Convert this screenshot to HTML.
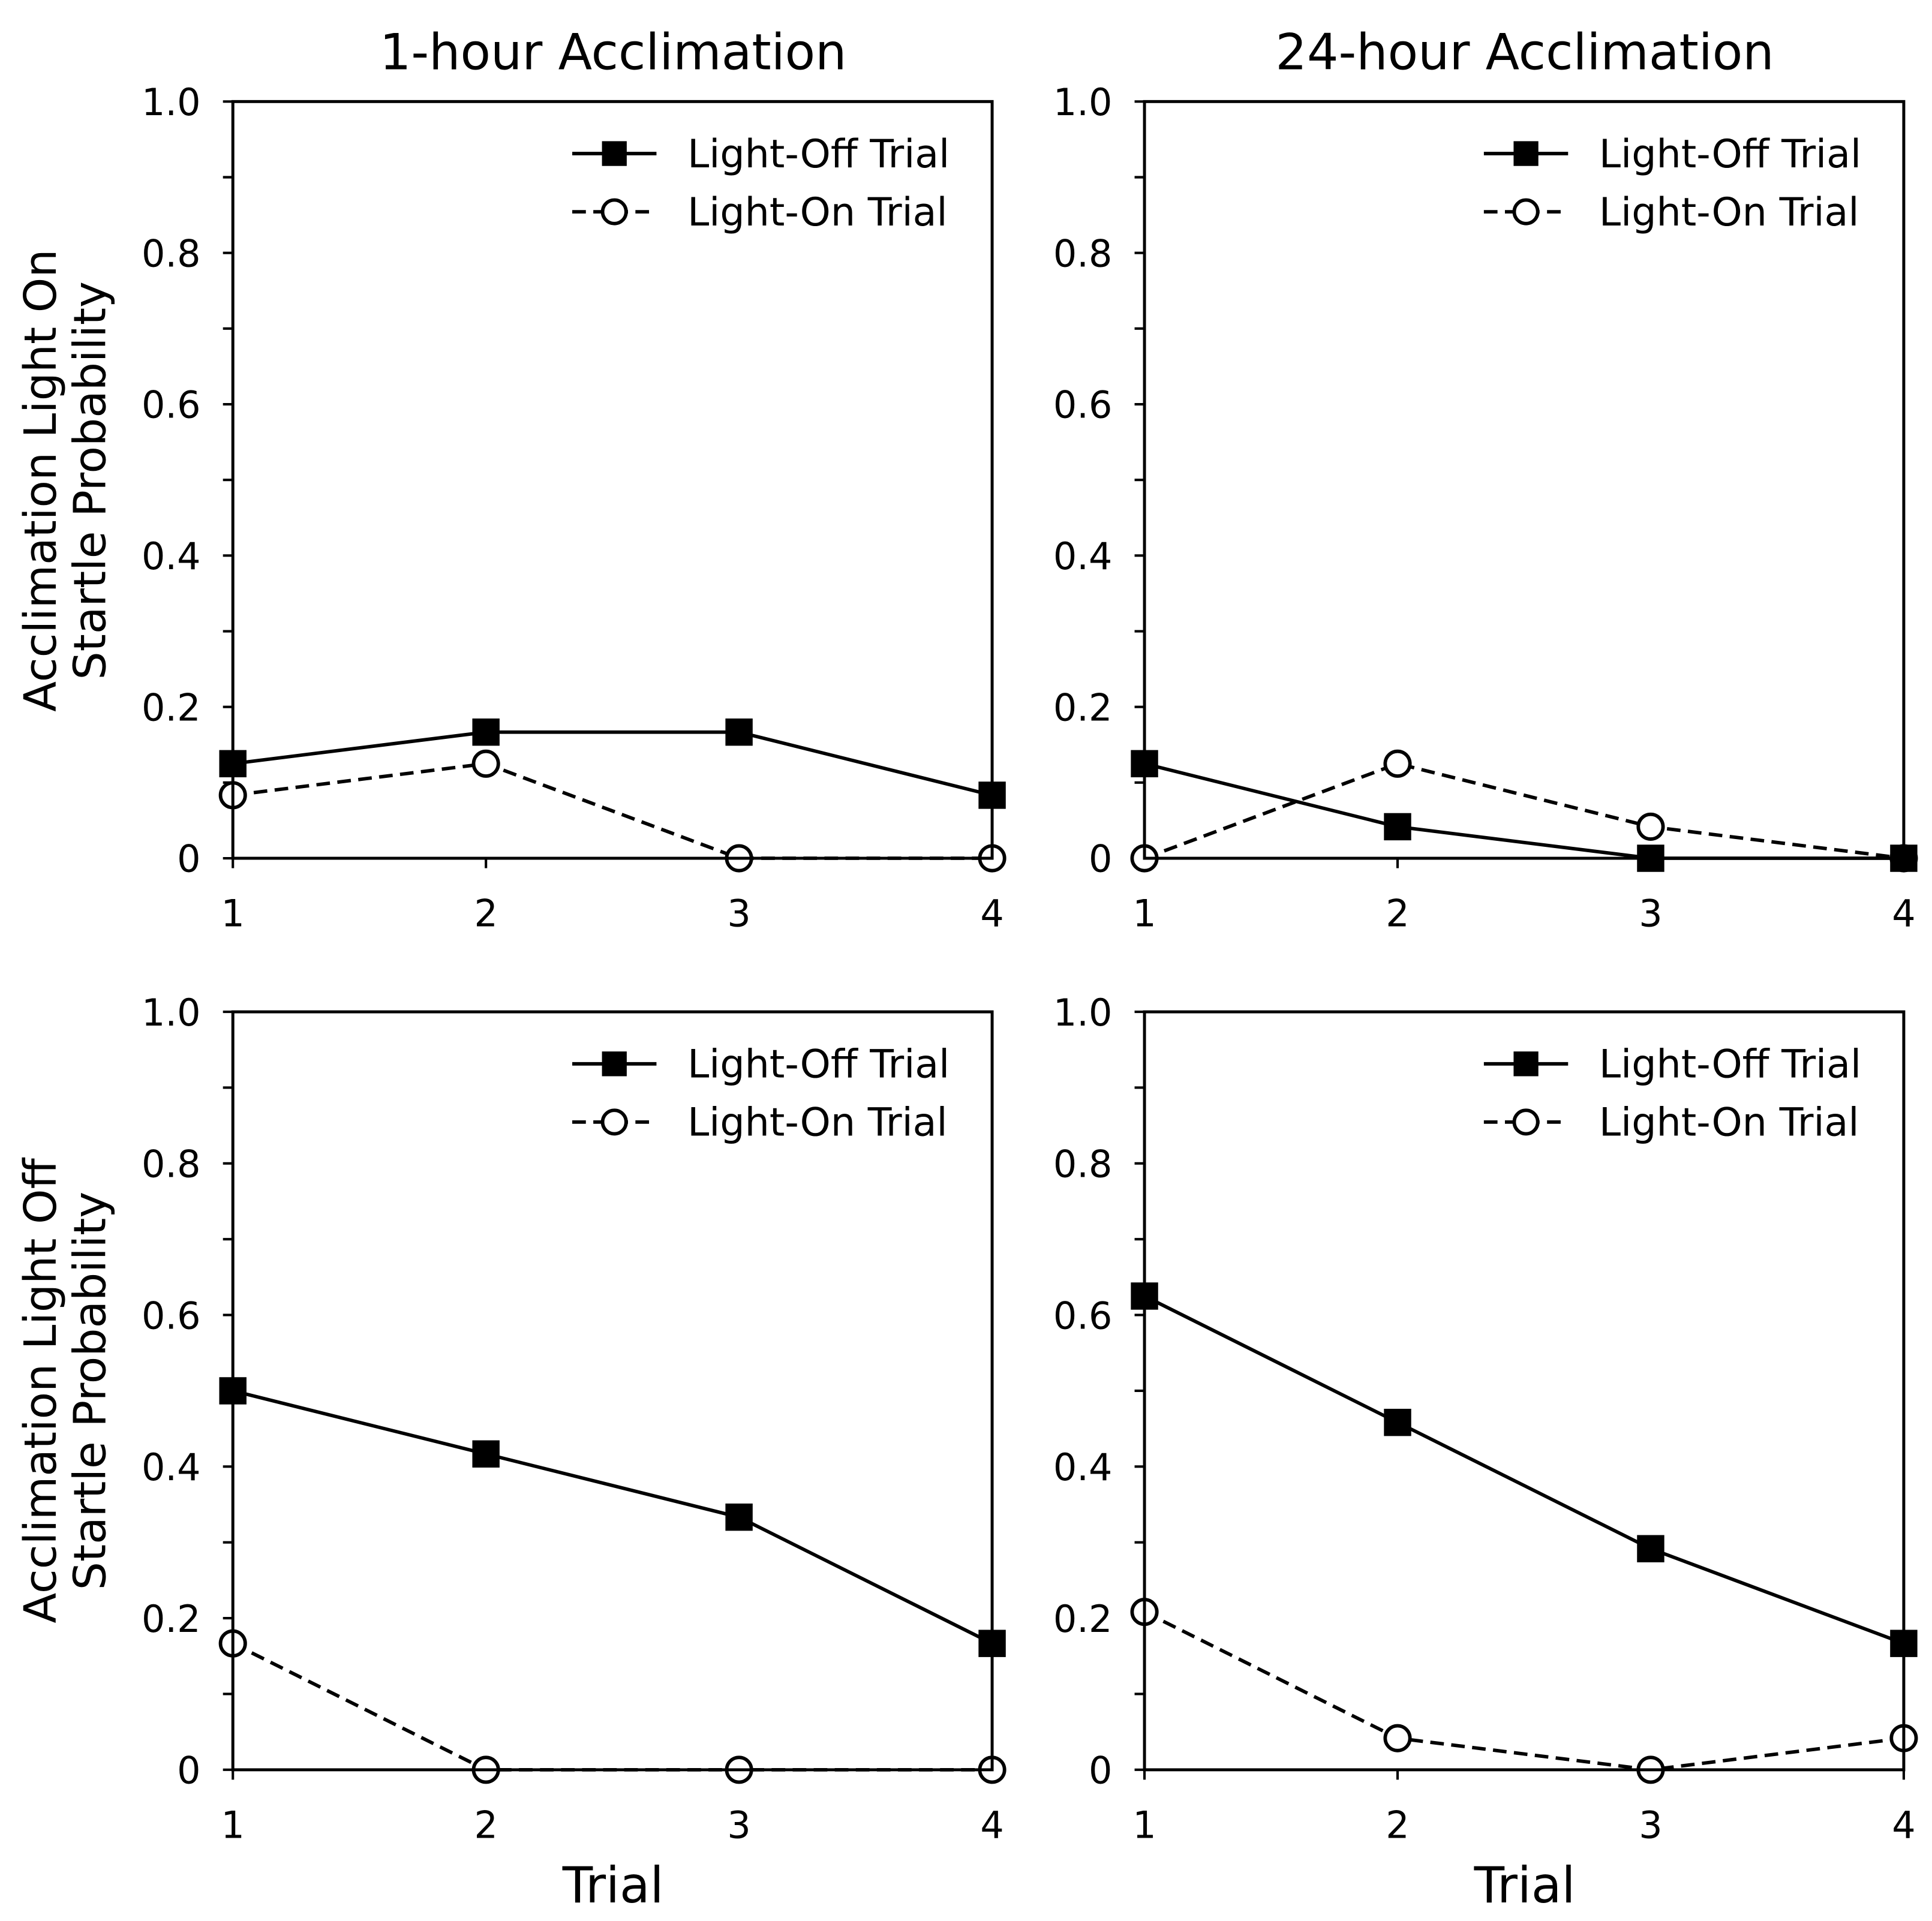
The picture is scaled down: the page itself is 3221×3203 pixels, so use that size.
<!DOCTYPE html>
<html><head><meta charset="utf-8"><style>
html,body{margin:0;padding:0;background:#fff;}
svg{display:block;font-family:"DejaVu Sans","Liberation Sans",sans-serif;}
</style></head><body>
<svg id="chart" width="3221" height="3203" viewBox="0 0 1559.8 1551.1" preserveAspectRatio="none" xmlns="http://www.w3.org/2000/svg"></svg>
<script>
const trials = [1, 2, 3, 4];
const yTicks = [0, 0.2, 0.4, 0.6, 0.8, 1.0];
const yTickLabels = ["0", "0.2", "0.4", "0.6", "0.8", "1.0"];
const tlOff = [0.125, 0.1667, 0.1667, 0.0833];
const tlOn = [0.0833, 0.125, 0, 0];
const trOff = [0.125, 0.0417, 0, 0];
const trOn = [0, 0.125, 0.0417, 0];
const blOff = [0.5, 0.4167, 0.3333, 0.1667];
const blOn = [0.1667, 0, 0, 0];
const brOff = [0.625, 0.4583, 0.2917, 0.1667];
const brOn = [0.2083, 0.0417, 0, 0.0417];

const NS = "http://www.w3.org/2000/svg";
const svg = document.getElementById("chart");
function mk(tag, attrs, parent) {
  const e = document.createElementNS(NS, tag);
  for (const k in attrs) e.setAttribute(k, attrs[k]);
  (parent || svg).appendChild(e);
  return e;
}
const panels = [
  {name: "top-left", x0: 188, x1: 801, y0: 693, y1: 82, off: tlOff, on: tlOn},
  {name: "top-right", x0: 924, x1: 1537, y0: 693, y1: 82, off: trOff, on: trOn},
  {name: "bottom-left", x0: 188, x1: 801, y0: 1429, y1: 817, off: blOff, on: blOn},
  {name: "bottom-right", x0: 924, x1: 1537, y0: 1429, y1: 817, off: brOff, on: brOn}
];
const SW = 2.8;
panels.forEach(p => {
  const g = mk("g", {});
  
  
  const xs = v => p.x0 + (v - 1) / 3 * (p.x1 - p.x0);
  const ys = v => p.y0 + v * (p.y1 - p.y0);
  for (let i = 0; i <= 10; i++) {
    const y = ys(i / 10);
    mk("line", {x1: p.x0 - 8, x2: p.x0, y1: y, y2: y, stroke: "#000", "stroke-width": 2}, g);
  }
  yTicks.forEach((t, i) => {
    const y = ys(t);
    const tx = mk("text", {x: p.x0 - 26, y: y + 11, "text-anchor": "end", "font-size": 30}, g);
    tx.textContent = yTickLabels[i];
    
    
  });
  trials.forEach(t => {
    const x = xs(t);
    mk("line", {x1: x, x2: x, y1: p.y0, y2: p.y0 + 8, stroke: "#000", "stroke-width": 2}, g);
    const tx = mk("text", {x: x, y: p.y0 + 55, "text-anchor": "middle", "font-size": 30}, g);
    tx.textContent = t;
    
    
  });
  const onPts = p.on.map((v, i) => xs(trials[i]) + "," + ys(v)).join(" ");
  const l2 = mk("polyline", {points: onPts, fill: "none", stroke: "#000", "stroke-width": SW, "stroke-dasharray": "11,6"}, g);
  
  
  const offPts = p.off.map((v, i) => xs(trials[i]) + "," + ys(v)).join(" ");
  const l1 = mk("polyline", {points: offPts, fill: "none", stroke: "#000", "stroke-width": SW}, g);
  
  
  p.on.forEach((v, i) => {
    const c = mk("circle", {cx: xs(trials[i]), cy: ys(v), r: 10, fill: "#fff", stroke: "#000", "stroke-width": SW}, g);
    
    
  });
  p.off.forEach((v, i) => {
    const r = mk("rect", {x: xs(trials[i]) - 11, y: ys(v) - 11, width: 22, height: 22, fill: "#000"}, g);
    
    
  });
  mk("rect", {x: p.x0, y: p.y1, width: p.x1 - p.x0, height: p.y0 - p.y1, fill: "none", stroke: "#000", "stroke-width": 2.4}, g);
  const lx = p.x0 + 274, ly1 = p.y1 + 42, ly2 = p.y1 + 89;
  const lg = mk("g", {}, g);
  
  
  mk("line", {x1: lx, x2: lx + 68, y1: ly1, y2: ly1, stroke: "#000", "stroke-width": SW}, lg);
  mk("rect", {x: lx + 24, y: ly1 - 10, width: 20, height: 20, fill: "#000"}, lg);
  mk("line", {x1: lx, x2: lx + 68, y1: ly2, y2: ly2, stroke: "#000", "stroke-width": SW, "stroke-dasharray": "11,6"}, lg);
  mk("circle", {cx: lx + 34, cy: ly2, r: 9.5, fill: "#fff", stroke: "#000", "stroke-width": SW}, lg);
  const t1 = mk("text", {x: lx + 93, y: ly1 + 11, "font-size": 31.5}, lg);
  t1.textContent = "Light-Off Trial";
  
  
  const t2 = mk("text", {x: lx + 93, y: ly2 + 11, "font-size": 31.5}, lg);
  t2.textContent = "Light-On Trial";
  
  
});
function txt(s, attrs, name) {
  const t = mk("text", attrs);
  t.textContent = s;
  
  
  return t;
}
txt("1-hour Acclimation", {x: 495, y: 56, "text-anchor": "middle", "font-size": 40}, "title-1-hour");
txt("24-hour Acclimation", {x: 1231, y: 56, "text-anchor": "middle", "font-size": 40}, "title-24-hour");
txt("Trial", {x: 495, y: 1536, "text-anchor": "middle", "font-size": 40}, "x-axis-title-left");
txt("Trial", {x: 1231, y: 1536, "text-anchor": "middle", "font-size": 40}, "x-axis-title-right");
txt("Acclimation Light On", {x: 0, y: 0, "text-anchor": "middle", "font-size": 36, transform: "translate(45,388) rotate(-90)"}, "y-axis-title-top-line1");
txt("Startle Probability", {x: 0, y: 0, "text-anchor": "middle", "font-size": 36, transform: "translate(85,388) rotate(-90)"}, "y-axis-title-top-line2");
txt("Acclimation Light Off", {x: 0, y: 0, "text-anchor": "middle", "font-size": 36, transform: "translate(45,1123) rotate(-90)"}, "y-axis-title-bottom-line1");
txt("Startle Probability", {x: 0, y: 0, "text-anchor": "middle", "font-size": 36, transform: "translate(85,1123) rotate(-90)"}, "y-axis-title-bottom-line2");
</script>
</body></html>
